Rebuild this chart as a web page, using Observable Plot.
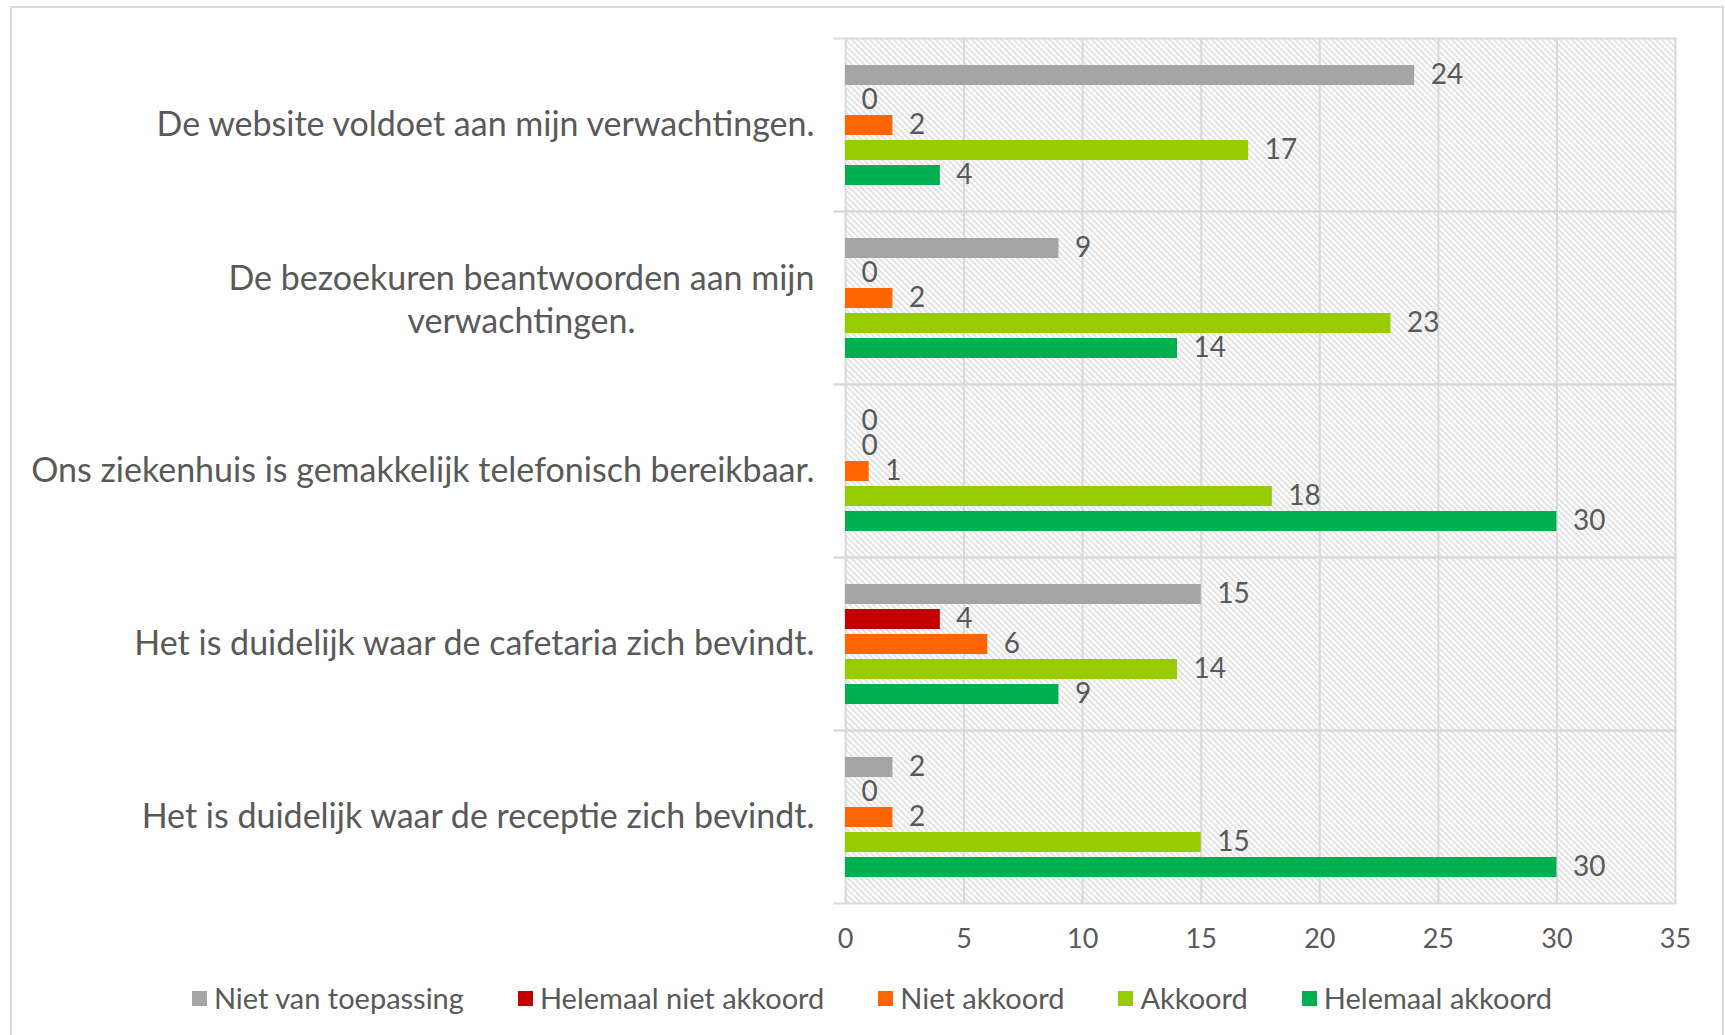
<!DOCTYPE html>
<html>
<head>
<meta charset="utf-8">
<script src="https://cdn.jsdelivr.net/npm/d3@7"></script>
<script src="https://cdn.jsdelivr.net/npm/@observablehq/plot@0.6"></script>
<style>
  html, body { margin: 0; padding: 0; background: #fff; }
  #frame {
    position: absolute; left: 10px; top: 6px; width: 1710px; height: 1100px;
    border: 2px solid #d9d9d9; background: #fff;
  }
  #chart svg { display: block; }
  #legend {
    display: flex; justify-content: center; align-items: center; height: 48px;
    margin-top: 5px; margin-left: 10px;
    font-family: Lato, sans-serif; font-size: 29px; color: #595959;
  }
  .item { display: flex; align-items: center; margin: 0 27px; }
  .sw { width: 15px; height: 15px; margin-right: 7px; margin-top: 3px; }
</style>
</head>
<body>
<div id="frame"><div id="chart"></div><div id="legend"></div></div>
<script>
const questions = [
  "De website voldoet aan mijn verwachtingen.",
  "De bezoekuren beantwoorden aan mijn\nverwachtingen.",
  "Ons ziekenhuis is gemakkelijk telefonisch bereikbaar.",
  "Het is duidelijk waar de cafetaria zich bevindt.",
  "Het is duidelijk waar de receptie zich bevindt."
];
const series = ["Niet van toepassing", "Helemaal niet akkoord", "Niet akkoord", "Akkoord", "Helemaal akkoord"];
const nietVanToepassing   = [24, 9, 0, 15, 2];
const helemaalNietAkkoord = [0, 0, 0, 4, 0];
const nietAkkoord         = [2, 2, 1, 6, 2];
const akkoord             = [17, 23, 18, 14, 15];
const helemaalAkkoord     = [4, 14, 30, 9, 30];
const colors = ["#A5A5A5", "#C00000", "#FF6600", "#99CC00", "#00B050"];
const xTicks = [0, 5, 10, 15, 20, 25, 30, 35];

const seriesValues = [nietVanToepassing, helemaalNietAkkoord, nietAkkoord, akkoord, helemaalAkkoord];
const data = [];
questions.forEach((q, i) => {
  series.forEach((s, j) => data.push({question: q, series: s, value: seriesValues[j][i]}));
});

const labelFont = 34;
const gap = 31;
const ctx = document.createElement("canvas").getContext("2d");
ctx.font = `${labelFont}px Lato`;
const labelMarks = questions.map(q => {
  const lines = q.split("\n");
  if (lines.length === 1) {
    return Plot.text([q], {fy: d => d, text: d => d, frameAnchor: "left", textAnchor: "end",
      dx: -gap, fontSize: labelFont, fill: "#595959", lineAnchor: "middle"});
  }
  const w = Math.max(...lines.map(l => ctx.measureText(l).width));
  return Plot.text([q], {fy: d => d, text: d => d, frameAnchor: "left", textAnchor: "middle",
    dx: -gap - w / 2, fontSize: labelFont, fill: "#595959", lineAnchor: "middle", lineHeight: 1.24});
});

const grid = "#d9d9d9";
const svg = Plot.plot({
  width: 1710,
  height: 960,
  marginLeft: 833,
  marginRight: 47,
  marginTop: 28,
  marginBottom: 63,
  style: {fontFamily: "Lato, sans-serif", fontSize: "27px", color: "#595959", background: "#fff"},
  x: {domain: [0, 35], axis: null},
  y: {domain: series, paddingInner: 0.22, paddingOuter: 1.0, axis: null},
  fy: {domain: questions, padding: 0, axis: null},
  color: {domain: series, range: colors},
  marks: [
    Plot.frame({fill: "url(#hatch)", stroke: null}),
    Plot.ruleX(xTicks, {stroke: grid, strokeWidth: 2}),
    Plot.frame({anchor: "top", stroke: grid, strokeWidth: 2, insetLeft: -11}),
    Plot.frame({anchor: "bottom", stroke: grid, strokeWidth: 2, insetLeft: -11}),
    Plot.barX(data, {x: "value", y: "series", fy: "question", fill: "series"}),
    Plot.text(data, {x: "value", y: "series", fy: "question", text: d => String(d.value),
      textAnchor: "start", dx: 16, fontSize: 28, fill: "#595959"}),
    ...labelMarks,
    Plot.axisX({ticks: xTicks, tickSize: 0, tickPadding: 25, fontSize: 27, fill: "#595959", label: null})
  ]
});

d3.select(svg).insert("defs", ":first-child").html(
  `<pattern id="hatch" patternUnits="userSpaceOnUse" width="6" height="6">
     <rect width="6" height="6" fill="#ffffff"/>
     <path d="M-1,-1 L7,7 M-1,5 L1,7 M5,-1 L7,1" stroke="#d4d4d4" stroke-width="1.3"/>
   </pattern>`);
document.getElementById("chart").appendChild(svg);

const legend = document.getElementById("legend");
series.forEach((s, i) => {
  const item = document.createElement("div");
  item.className = "item";
  const sw = document.createElement("div");
  sw.className = "sw";
  sw.style.background = colors[i];
  const t = document.createElement("span");
  t.textContent = s;
  item.appendChild(sw);
  item.appendChild(t);
  legend.appendChild(item);
});
</script>
</body>
</html>
